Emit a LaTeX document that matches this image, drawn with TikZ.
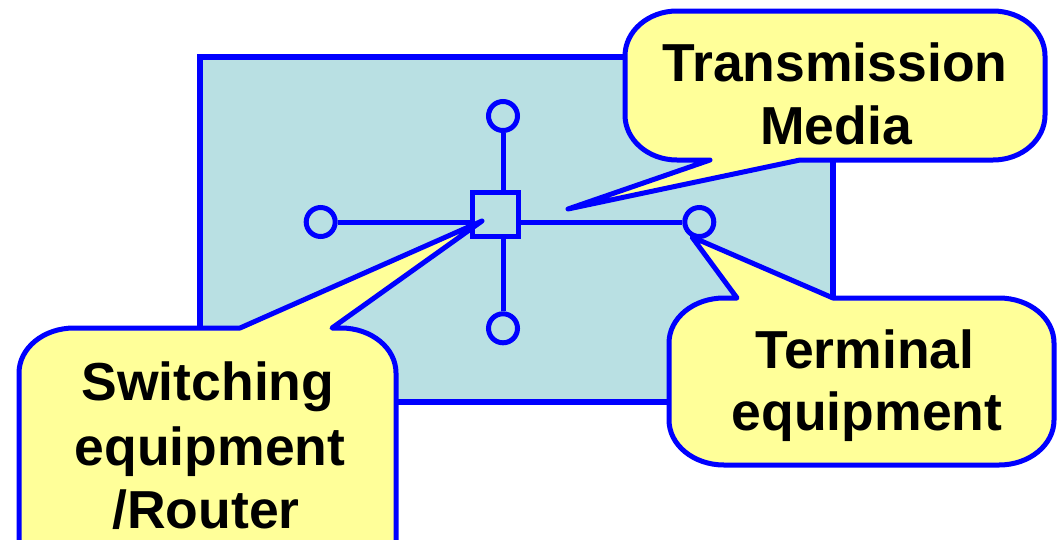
\documentclass[tikz,border=0pt]{standalone}
\usepackage{fontspec}
\setmainfont{Liberation Sans}
\definecolor{netblue}{RGB}{0,0,255}
\definecolor{panel}{RGB}{185,224,227}
\definecolor{note}{RGB}{255,255,153}
\tikzset{
  lbl/.style={anchor=base, inner sep=0pt, font=\fontsize{53.5}{63}\selectfont\bfseries},
  bubble/.style={draw=netblue, fill=note, line width=5pt, line join=round},
  term/.style={circle, draw=netblue, line width=5pt, minimum size=29pt, inner sep=0pt},
  hub/.style={rectangle, draw=netblue, line width=5pt, minimum width=45.5pt, minimum height=43.5pt, inner sep=0pt},
  wire/.style={draw=netblue, line width=5pt}
}
\begin{document}
\begin{tikzpicture}[x=1pt, y=-1pt]
\useasboundingbox (0,0) rectangle (1057,539);
% network panel
\draw[draw=netblue, fill=panel, line width=6pt] (200,56.5) rectangle (833,402);
% nodes of the network
\node[hub] (S) at (495.3,214.3) {};
\node[term] (T) at (503,116) {};
\node[term] (B) at (503,328.3) {};
\node[term] (L) at (320.7,222) {};
\node[term] (R) at (699.3,222) {};
\draw[wire] (L.east) -- (S.west |- L.east);
\draw[wire] (S.east |- R.west) -- (R.west);
\draw[wire] (T.south) -- (T.south |- S.north);
\draw[wire] (B.north) -- (B.north |- S.south);
% tips of the callouts
\coordinate (tipM) at (568,209);
\coordinate (tipT) at (692,237);
\coordinate (tipS) at (482,221);
% Transmission Media callout: x 625..1045, y 11..160
\draw[bubble] (710,160) -- (tipM) -- (800,160) -- (993,160)
  .. controls (1021.7,160) and (1045,140) .. (1045,115)
  -- (1045,56)
  .. controls (1045,31) and (1021.7,11) .. (993,11)
  -- (677,11)
  .. controls (648.3,11) and (625,31) .. (625,56)
  -- (625,115)
  .. controls (625,140) and (648.3,160) .. (677,160)
  -- cycle;
% Terminal equipment callout: x 669..1054, y 298..465
\draw[bubble] (833,298) -- (tipT) -- (737,298) -- (724,298)
  .. controls (693.6,298) and (669,318) .. (669,343)
  -- (669,420)
  .. controls (669,445) and (693.6,465) .. (724,465)
  -- (999,465)
  .. controls (1029.4,465) and (1054,445) .. (1054,420)
  -- (1054,343)
  .. controls (1054,318) and (1029.4,298) .. (999,298)
  -- cycle;
% Switching equipment callout: x 19..396, y 328..590
\draw[bubble] (332,328) -- (tipS) -- (240,328) -- (74,328)
  .. controls (43.6,328) and (19,348) .. (19,373)
  -- (19,545)
  .. controls (19,570) and (43.6,590) .. (74,590)
  -- (341,590)
  .. controls (371.4,590) and (396,570) .. (396,545)
  -- (396,373)
  .. controls (396,348) and (371.4,328) .. (341,328)
  -- cycle;
% labels
\node[lbl] (m1) at (835,81) {Transmission};
\node[lbl] (m2) at (836,144) {Media};
\node[lbl] (t1) at (865,368) {Terminal};
\node[lbl] (t2) at (867,430) {equipment};
\node[lbl] (s1) at (208,400) {Switching};
\node[lbl] (s2) at (210,465) {equipment};
\node[lbl] (s3) at (206,528) {/Router};
\end{tikzpicture}
\end{document}
